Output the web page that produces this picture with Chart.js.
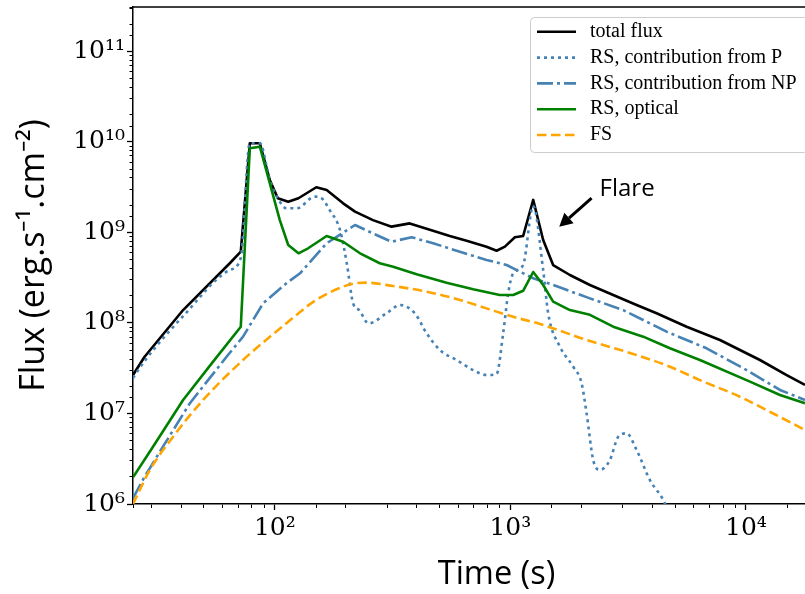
<!DOCTYPE html>
<html>
<head>
<meta charset="utf-8">
<script src="https://cdn.jsdelivr.net/npm/chart.js"></script>
<style>
  html, body { margin: 0; padding: 0; background: #fff; overflow: hidden; }
  #wrap { width: 805px; height: 594px; overflow: hidden; position: relative; }
  canvas { display: block; }
</style>
</head>
<body>
<div id="wrap"><canvas id="chart" width="860" height="594"></canvas></div>
<script>
// total flux
const totalT = [25, 28, 40.8, 64.4, 71.7, 78.3, 86.4, 95.2, 103, 114, 126, 150, 166, 195, 219, 261, 313, 374, 455, 553, 652, 792, 874, 948, 1045, 1133, 1250, 1378, 1519, 1789, 2176, 2733, 3435, 4176, 5601, 7757, 11470, 14890, 17810];
const totalF = [2.66e7, 4.24e7, 1.39e8, 4.57e8, 6.13e8, 9.67e9, 9.67e9, 3.8e9, 2.39e9, 2.19e9, 2.39e9, 3.16e9, 2.95e9, 2.10e9, 1.70e9, 1.37e9, 1.16e9, 1.26e9, 1.07e9, 9.15e8, 8.12e8, 6.97e8, 6.29e8, 6.97e8, 8.85e8, 9.15e8, 2.29e9, 8.26e8, 4.37e8, 3.39e8, 2.63e8, 2.04e8, 1.58e8, 1.28e8, 9.1e7, 6.49e7, 3.9e7, 2.66e7, 2.07e7];

// RS, contribution from P
const pT = [25, 28, 40.8, 64.4, 71.7, 78.3, 86.4, 95.2, 103, 112, 124, 148, 158, 171, 189, 202, 215, 228, 250, 298, 340, 393, 441, 502, 591, 695, 792, 874, 932, 979, 1028, 1133, 1250, 1378, 1447, 1623, 1848, 2006, 2107, 2247, 2399, 2646, 2870, 3114, 3435, 3912, 4454, 4853];
const pF = [2.47e7, 3.8e7, 1.19e8, 3.85e8, 5.23e8, 9.67e9, 9.67e9, 3.8e9, 2.39e9, 1.85e9, 1.85e9, 2.49e9, 2.39e9, 1.77e9, 1.07e9, 4.6e8, 1.65e8, 1.39e8, 9.9e7, 1.28e8, 1.58e8, 1.28e8, 7.7e7, 5.03e7, 3.9e7, 3.02e7, 2.66e7, 2.73e7, 7.7e7, 2.13e8, 3.54e8, 4.37e8, 1.96e9, 3.85e8, 1.28e8, 5.47e7, 3.29e7, 2.16e7, 1.0e7, 3.06e6, 2.38e6, 3.06e6, 5.54e6, 6.04e6, 3.95e6, 1.84e6, 1.11e6, 6.6e5];

// RS, contribution from NP
const npT = [25, 28, 33.5, 43.6, 62.4, 73.3, 89.2, 112, 128, 166, 219, 270, 313, 381, 470, 610, 792, 964, 1097, 1250, 1519, 2176, 3013, 4606, 6810, 10070, 13950, 17810];
const npF = [1.16e6, 2.0e6, 4.3e6, 1.3e7, 4.24e7, 7.06e7, 1.65e8, 2.75e8, 3.54e8, 7.6e8, 1.21e9, 9.38e8, 7.91e8, 8.85e8, 7.6e8, 6.13e8, 4.97e8, 4.37e8, 3.69e8, 3.12e8, 2.63e8, 1.87e8, 1.39e8, 8.01e7, 5.25e7, 3.02e7, 1.82e7, 1.41e7];

// RS, optical
const optT = [25, 30.4, 40.8, 54.7, 71.7, 78.3, 86.4, 105, 114, 126, 138.5, 166, 195, 230, 279, 318, 400, 536, 695, 902, 1028, 1133, 1250, 1378, 1519, 1789, 2176, 2733, 3664, 4757, 6377, 10400, 13950, 17810];
const optF = [1.97e6, 4.3e6, 1.41e7, 3.74e7, 9.1e7, 8.51e9, 8.87e9, 1.37e9, 7.28e8, 5.89e8, 6.69e8, 9.15e8, 7.91e8, 5.89e8, 4.57e8, 4.19e8, 3.45e8, 2.79e8, 2.36e8, 2.04e8, 2.04e8, 2.27e8, 3.66e8, 2.63e8, 1.72e8, 1.39e8, 1.23e8, 9.1e7, 7.06e7, 5.25e7, 3.9e7, 2.25e7, 1.6e7, 1.3e7];

// FS
const fsT = [25, 29.5, 37, 49.6, 73.3, 112, 150, 208, 245, 318, 441, 610, 792, 1028, 1335, 2107, 3435, 4757, 6377, 9430, 13060, 17810];
const fsF = [1.0e6, 2.38e6, 5.54e6, 1.41e7, 3.9e7, 9.92e7, 1.8e8, 2.66e8, 2.79e8, 2.56e8, 2.22e8, 1.8e8, 1.45e8, 1.17e8, 9.75e7, 6.49e7, 4.43e7, 3.29e7, 2.34e7, 1.53e7, 1.0e7, 6.57e6];

const xRange = [25, 30500];
const yRange = [1e6, 3.1e11];

// arrow pointing at the flare, in data units
const flareTip = { t: 1612, f: 1.16e9 };
const flareTail = { t: 2212, f: 2.39e9 };

const pts = (ts, fs) => ts.map((t, i) => ({ x: t, y: fs[i] }));

const SUP = { '0': '⁰', '1': '¹', '2': '²', '3': '³', '4': '⁴', '5': '⁵', '6': '⁶', '7': '⁷', '8': '⁸', '9': '⁹', '-': '⁻' };
function powLabel(v) {
  const e = Math.log10(v);
  if (Math.abs(e - Math.round(e)) > 1e-9) return '';
  return '10' + String(Math.round(e)).split('').map((c) => SUP[c]).join('');
}

const LW = 2.6;

// minor ticks shorter than major ones
function tickDash(axis) {
  return (ctx) => {
    if (ctx.tick && ctx.tick.major) return [];
    return axis === 'y' ? [0, 2.5, 4, 50] : [3.5, 50];
  };
}

const frame = {
  id: 'frame',
  afterDraw(chart) {
    const { ctx, chartArea: a } = chart;
    ctx.save();
    ctx.strokeStyle = '#000';
    ctx.lineWidth = 1.5;
    ctx.beginPath();
    ctx.moveTo(a.left, a.top);
    ctx.lineTo(a.right, a.top);
    ctx.stroke();
    ctx.restore();
  },
};

const flare = {
  id: 'flare',
  afterDatasetsDraw(chart) {
    const { ctx, scales: { x, y } } = chart;
    const x1 = x.getPixelForValue(flareTail.t), y1 = y.getPixelForValue(flareTail.f);
    const x2 = x.getPixelForValue(flareTip.t), y2 = y.getPixelForValue(flareTip.f);
    const ang = Math.atan2(y2 - y1, x2 - x1);
    const head = 13, hw = 7;
    const bx = x2 - head * Math.cos(ang), by = y2 - head * Math.sin(ang);
    ctx.save();
    ctx.strokeStyle = '#000';
    ctx.fillStyle = '#000';
    ctx.lineWidth = 3;
    ctx.beginPath();
    ctx.moveTo(x1, y1);
    ctx.lineTo(bx, by);
    ctx.stroke();
    ctx.beginPath();
    ctx.moveTo(x2, y2);
    ctx.lineTo(bx + hw * Math.sin(ang), by - hw * Math.cos(ang));
    ctx.lineTo(bx - hw * Math.sin(ang), by + hw * Math.cos(ang));
    ctx.closePath();
    ctx.fill();
    ctx.font = '24px "Open Sans"';
    ctx.textBaseline = 'alphabetic';
    ctx.textAlign = 'left';
    ctx.fillText('Flare', x1 + 8, y1 - 2);
    ctx.restore();
  },
};

const legendBox = {
  id: 'legendBox',
  afterDraw(chart) {
    const { ctx } = chart;
    const bx = 530, by = 17, bw = 278, bh = 135;
    ctx.save();
    ctx.fillStyle = 'rgba(255,255,255,0.85)';
    ctx.strokeStyle = '#cccccc';
    ctx.lineWidth = 1;
    ctx.beginPath();
    ctx.roundRect(bx + 0.5, by + 0.5, bw, bh, 4);
    ctx.fill();
    ctx.stroke();
    chart.data.datasets.forEach((ds, i) => {
      const yy = 31.8 + i * 25.8;
      ctx.strokeStyle = ds.borderColor;
      ctx.lineWidth = ds.borderWidth;
      ctx.setLineDash(ds.borderDash || []);
      ctx.beginPath();
      ctx.moveTo(537, yy);
      ctx.lineTo(576, yy);
      ctx.stroke();
      ctx.setLineDash([]);
      ctx.fillStyle = '#000';
      ctx.font = '20px "Liberation Serif"';
      ctx.textBaseline = 'middle';
      ctx.fillText(ds.label, 590, yy);
    });
    ctx.restore();
  },
};

new Chart(document.getElementById('chart'), {
  type: 'line',
  data: {
    datasets: [
      { label: 'total flux', data: pts(totalT, totalF), borderColor: '#000000', borderWidth: LW, order: 5 },
      { label: 'RS, contribution from P', data: pts(pT, pF), borderColor: '#4682b4', borderWidth: LW, borderDash: [3, 4], cubicInterpolationMode: 'monotone', order: 4 },
      { label: 'RS, contribution from NP', data: pts(npT, npF), borderColor: '#4682b4', borderWidth: LW, borderDash: [16, 4, 3, 4], order: 3 },
      { label: 'RS, optical', data: pts(optT, optF), borderColor: '#008000', borderWidth: LW, order: 2 },
      { label: 'FS', data: pts(fsT, fsF), borderColor: '#ffa500', borderWidth: LW, borderDash: [9.5, 4.5], cubicInterpolationMode: 'monotone', order: 1 },
    ],
  },
  options: {
    responsive: false,
    animation: false,
    elements: { point: { radius: 0 }, line: { tension: 0, fill: false, borderCapStyle: 'butt', borderJoinStyle: 'round' } },
    layout: { padding: { left: 0, top: 7, right: 0, bottom: 0 } },
    plugins: { legend: { display: false }, tooltip: { enabled: false } },
    scales: {
      x: {
        type: 'logarithmic',
        position: 'bottom',
        min: xRange[0],
        max: xRange[1],
        afterFit: (s) => { s.height = 90; s.paddingLeft = 0; s.paddingRight = 0; },
        ticks: {
          autoSkip: false, maxRotation: 0, padding: 3, color: '#000',
          font: { family: '"DejaVu Serif"', size: 25 },
          callback: (v) => powLabel(v),
        },
        grid: {
          display: true, drawOnChartArea: false, drawTicks: true, tickLength: 6,
          tickColor: '#000', tickWidth: (c) => (c.tick && c.tick.major ? 1.3 : 1),
          tickBorderDash: tickDash('x'),
        },
        border: { display: true, color: '#000', width: 1.5 },
        title: {
          display: true, text: 'Time (s)', color: '#000',
          font: { family: '"Open Sans"', size: 32.5, lineHeight: 1.2 },
          padding: { top: 0, bottom: 0 },
        },
      },
      y: {
        type: 'logarithmic',
        position: 'left',
        min: yRange[0],
        max: yRange[1],
        afterFit: (s) => { s.width = 133; s.paddingTop = 0; s.paddingBottom = 0; },
        ticks: {
          autoSkip: false, padding: 2, color: '#000',
          font: { family: '"DejaVu Serif"', size: 25 },
          callback: (v) => powLabel(v),
        },
        grid: {
          display: true, drawOnChartArea: false, drawTicks: true, tickLength: 6,
          tickColor: '#000', tickWidth: (c) => (c.tick && c.tick.major ? 1.3 : 1),
          tickBorderDash: tickDash('y'),
        },
        border: { display: true, color: '#000', width: 1.5 },
        title: {
          display: true, text: 'Flux (erg.s⁻¹.cm⁻²)', color: '#000',
          font: { family: '"Open Sans"', size: 34, lineHeight: 1.2 },
          padding: { top: 14, bottom: 0 },
        },
      },
    },
  },
  plugins: [frame, flare, legendBox],
});
</script>
</body>
</html>
